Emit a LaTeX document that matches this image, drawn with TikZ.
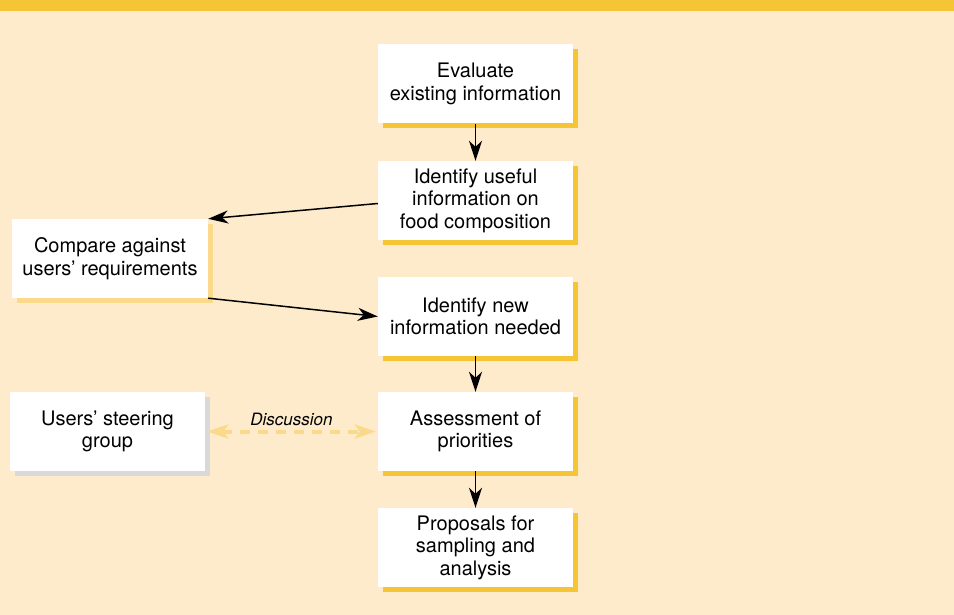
\documentclass[tikz,border=0pt]{standalone}
\usepackage{fontspec}
\setmainfont{TeX Gyre Heros}
\usetikzlibrary{arrows.meta,shadows}
\definecolor{barYellow}{HTML}{F6C536}
\definecolor{paper}{HTML}{FDEBCB}
\definecolor{paleYellow}{HTML}{FBD98A}
\definecolor{shadeGrey}{HTML}{D9D9D9}
\tikzset{
	stagebox/.style={fill=white, inner sep=0pt, minimum width=195pt, minimum height=79pt,
		align=center, font=\fontsize{20}{22.5}\selectfont},
	shadeDark/.style={drop shadow={shadow xshift=5pt, shadow yshift=-5pt, fill=barYellow, opacity=1}},
	shadePale/.style={drop shadow={shadow xshift=5pt, shadow yshift=-5pt, fill=paleYellow, opacity=1}},
	shadeGrey/.style={drop shadow={shadow xshift=5pt, shadow yshift=-5pt, fill=shadeGrey, opacity=1}},
	flow/.style={-{Stealth[length=20pt, width=13pt, inset=6pt]}, line width=1.5pt},
	talk/.style={{Stealth[length=21pt, width=14pt, inset=5pt]}-{Stealth[length=21pt, width=14pt, inset=5pt]},
		paleYellow, line width=4pt, dash pattern=on 10pt off 8pt}
}
\begin{document}
\begin{tikzpicture}[x=1pt, y=-1pt]
		%%%%% START %%%%%
		
		\fill[paper] (0, 0) rectangle (954, 615);
		\useasboundingbox (0, 0) rectangle (954, 615);
		\fill[barYellow] (0, 0) rectangle (954, 11);
		
		\node[stagebox, shadeDark] (evaluate) at (475.5, 84) {Evaluate\\existing information};
		\node[stagebox, shadeDark] (useful) at (475.5, 200.5) {Identify useful\\information on\\food composition};
		\node[stagebox, shadeDark] (needed) at (475.5, 316.5) {Identify new\\information needed};
		\node[stagebox, shadeDark] (assess) at (475.5, 431.5) {Assessment of\\priorities};
		\node[stagebox, shadeDark] (proposal) at (475.5, 547.5) {Proposals for\\sampling and\\analysis};
		
		\node[stagebox, shadePale, minimum width=196pt] (compare) at (110, 258.5) {Compare against\\users’ requirements};
		\node[stagebox, shadeGrey] (users) at (107.5, 431.5) {Users’ steering\\group};
		
		\draw[flow] (evaluate) -- (useful);
		\draw[flow] ([yshift=-3pt]useful.west) -- (compare.north east);
		\draw[flow] (compare.south east) -- (needed.west);
		\draw[flow] (needed) -- (assess);
		\draw[flow] (assess) -- (proposal);
		
		\draw[talk] ([xshift=2pt]users.east) -- node[above=0pt, text=black, font=\fontsize{17}{20}\itshape] {Discussion} ([xshift=-2pt]assess.west);
		
		%%%%% END %%%%%
	\end{tikzpicture}
\end{document}
